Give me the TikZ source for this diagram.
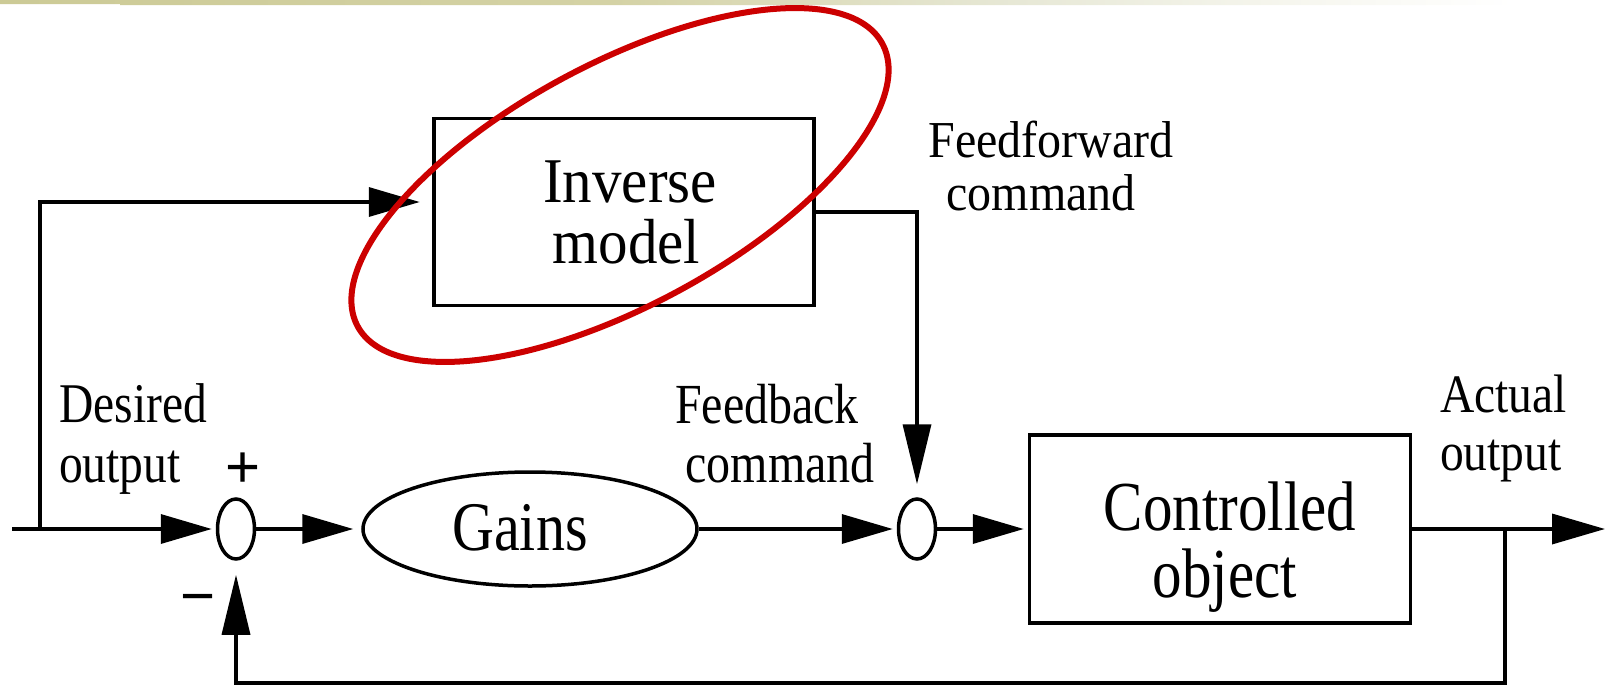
\documentclass[tikz,border=0pt]{standalone}
\usepackage{graphicx}
\usepackage{fontspec}
\setmainfont{Liberation Serif}
\newfontfamily\signfont{Liberation Sans}
\usetikzlibrary{arrows.meta,shapes.geometric,calc}

\definecolor{ringred}{RGB}{204,0,0}
\definecolor{bandA}{RGB}{204,202,150}
\definecolor{bandB}{RGB}{212,210,165}
\definecolor{bandC}{RGB}{230,231,212}
\definecolor{bandD}{RGB}{246,246,238}
\pgfdeclarehorizontalshading{topband}{100bp}{color(0bp)=(bandA); color(25bp)=(bandA); color(44bp)=(bandB); color(56bp)=(bandC); color(65bp)=(bandD); color(72bp)=(white); color(100bp)=(white)}

% taller-than-wide lettering
\newcommand\vsc[2]{\scalebox{1}[#1]{#2}}

\begin{document}
\begin{tikzpicture}[x=1pt,y=-1pt,
  wire/.style={line width=3.5pt, line join=miter},
  harrow/.style={wire, -{Triangle[length=51pt,width=29pt]}},
  varrow/.style={wire, -{Triangle[length=60pt,width=28pt]}},
  block/.style={draw, line width=3.5pt, rectangle, inner sep=0pt, align=center},
  junction/.style={draw, line width=3.5pt, ellipse, inner sep=0pt,
    minimum width=37pt, minimum height=60pt},
  tag/.style={inner sep=0pt, text height=0pt, text depth=0pt},
  sign/.style={inner sep=0pt, font=\signfont\fontsize{60pt}{60pt}\selectfont}
]
\useasboundingbox (0,0) rectangle (1610,686);

% header band
\shade[shading=topband] (0,0) -- (1610,0) -- (1610,5) -- (120,5) -- (120,4) -- (0,4) -- cycle;

% blocks (text height places the baseline of the last line)
\node[block, minimum width=380pt, minimum height=187pt,
      text height=102pt, text depth=0pt,
      font=\fontsize{59pt}{61pt}\selectfont] (inv) at (624,212)
      {\vsc{1.08}{Inverse}\kern-12pt\\\vsc{1.08}{model}\kern-5pt};
\node[junction] (s1) at (236,529) {};
\node[junction] (s2) at (917,529) {};
\node[draw, line width=3.5pt, ellipse, inner sep=0pt,
      minimum width=334pt, minimum height=114pt,
      text height=42pt, text depth=0pt,
      font=\fontsize{58pt}{60pt}\selectfont] (gains) at (530,529)
      {\vsc{1.2}{Gains}\kern20pt};
\node[block, minimum width=381pt, minimum height=188pt,
      text height=136pt, text depth=0pt,
      font=\fontsize{59pt}{67pt}\selectfont] (ctrl) at (1220,529)
      {\vsc{1.19}{Controlled}\kern-20pt\\\vsc{1.19}{object}\kern-10pt};

% signal labels (node point = baseline of the last line)
\node[tag, align=center, font=\fontsize{48pt}{53pt}\selectfont] (fftag) at (1051,210)
      {\vsc{1.08}{Feedforward}\\\vsc{1.08}{command}\kern20pt};
\node[tag, align=center, font=\fontsize{48pt}{59pt}\selectfont] (fbtag) at (767,482)
      {\vsc{1.18}{Feedback}\\\vsc{1.18}{command}\kern-26pt};
\node[tag, align=left, anchor=west, font=\fontsize{47.5pt}{60pt}\selectfont] (desired) at (59,482)
      {\vsc{1.18}{Desired}\\\vsc{1.18}{output}};
\node[tag, align=left, anchor=west, font=\fontsize{47.5pt}{58pt}\selectfont] (actual) at (1440,470)
      {\vsc{1.14}{Actual}\\\vsc{1.14}{output}};
\node[sign] (plus) at (243,470) {+};
\node[sign] (minus) at (198,605) {−};

% end points and branch points of the signal lines
\coordinate (src) at (12,529);
\coordinate (tap) at (40,529);
\coordinate (fb) at (1505,529);
\coordinate (fbb) at (1505,683);
\coordinate (sink) at (1605,529);

% connections
\draw[harrow, shorten >=4pt] (src) -- (s1);
\draw[harrow, shorten >=12.5pt] (tap) |- ($(inv.west)+(0,-10)$);
\draw[harrow, shorten >=8pt] (s1) -- (gains);
\draw[harrow, shorten >=4pt] (gains) -- (s2);
\draw[harrow, shorten >=4pt] (s2) -- (ctrl);
\draw[varrow, shorten >=13pt] (inv.east) -| (s2.north);
\draw[wire, -{Triangle[length=53pt,width=30pt]}] (ctrl.east) -- (sink);
\draw[varrow, shorten >=14pt] (fb) -- (fbb) -| (s1.south);

% highlight ring
\draw[ringred, line width=6pt, rotate around={28.3:(620,185)}]
  (620,185) ellipse [x radius=298pt, y radius=121pt];
\end{tikzpicture}
\end{document}
